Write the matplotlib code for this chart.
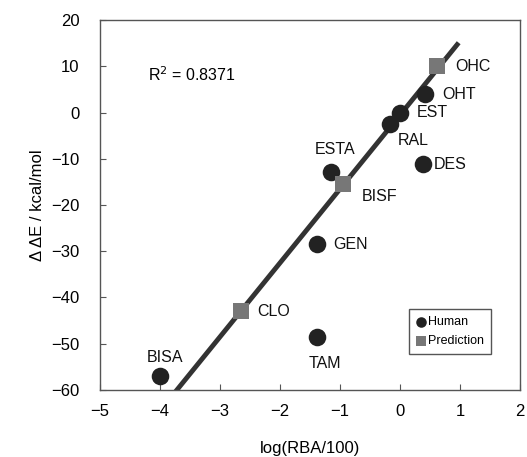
import matplotlib
matplotlib.use("Agg")
import matplotlib.pyplot as plt
import numpy as np

plt.rcParams['font.family'] = ['Liberation Sans', 'DejaVu Sans']

# Data
human_names = ['OHT', 'EST', 'RAL', 'DES', 'ESTA', 'GEN', 'TAM', 'BISA']
human_x = [0.42, 0.0, -0.17, 0.38, -1.15, -1.38, -1.38, -4.0]
human_y = [4.0, 0.0, -2.5, -11.2, -12.8, -28.5, -48.5, -57.0]

pred_names = ['OHC', 'BISF', 'CLO']
pred_x = [0.62, -0.95, -2.65]
pred_y = [10.0, -15.5, -43.0]

# regression line
fit_slope, fit_intercept = 16.0, -0.5
fit_x = [-3.72, 0.95]
r2_text = 'R$^2$ = 0.8371'

# label offsets in pixels (dx, dy, ha)
offsets = {
    'OHC': (18, 0, 'left'), 'OHT': (17, 0, 'left'), 'EST': (17, 0, 'left'),
    'RAL': (8, -16, 'left'), 'DES': (11, 0, 'left'), 'ESTA': (4, 22, 'center'),
    'BISF': (19, -12, 'left'), 'GEN': (16, 0, 'left'), 'CLO': (16, 0, 'left'),
    'TAM': (8, -27, 'center'), 'BISA': (5, 18, 'center'),
}

fig = plt.figure(figsize=(5.27, 4.57), dpi=100)
ax = fig.add_axes([0.19, 0.147, 0.797, 0.809])

fx = np.array(fit_x)
ax.plot(fx, fit_slope * fx + fit_intercept, color='#333333', lw=3.5, zorder=2)

ax.scatter(human_x, human_y, s=160, marker='o', color='#222222', lw=0, zorder=3, label='Human')
ax.scatter(pred_x, pred_y, s=125, marker='s', color='#777777', lw=0, zorder=3, label='Prediction')

for names, xs, ys in [(human_names, human_x, human_y), (pred_names, pred_x, pred_y)]:
    for n, x, y in zip(names, xs, ys):
        dx, dy, ha = offsets[n]
        ax.annotate(n, (x, y), xytext=(dx, dy), textcoords='offset pixels',
                    ha=ha, va='center', fontsize=11.5, color='#111111')

ax.text(-4.2, 8.2, r2_text, fontsize=11.5, va='center', ha='left')

ax.set_xlim(-5, 2)
ax.set_ylim(-60, 20)
ax.set_xticks(range(-5, 3))
ax.set_yticks(range(-60, 21, 10))
ax.set_xticklabels([str(v).replace('-', '−') for v in range(-5, 3)])
ax.set_yticklabels([str(v).replace('-', '−') for v in range(-60, 21, 10)])
ax.tick_params(axis='x', direction='in', length=4, labelsize=12, pad=10, color='#555555')
ax.tick_params(axis='y', direction='in', length=4, labelsize=12, pad=15, color='#555555')
for sp in ax.spines.values():
    sp.set_color('#555555')
    sp.set_linewidth(1.0)

ax.set_xlabel('log(RBA/100)', fontsize=12, labelpad=16)
ax.set_ylabel('Δ ΔE / kcal/mol', fontsize=12, labelpad=4)

leg = ax.legend(loc='lower right', bbox_to_anchor=(0.945, 0.08), fontsize=9,
                markerscale=0.6, handletextpad=0.1, borderpad=0.55,
                handlelength=0.9, labelspacing=0.55, fancybox=False, framealpha=1)
leg.get_frame().set_edgecolor('#555555')

fig.savefig('out.png', dpi=100)
